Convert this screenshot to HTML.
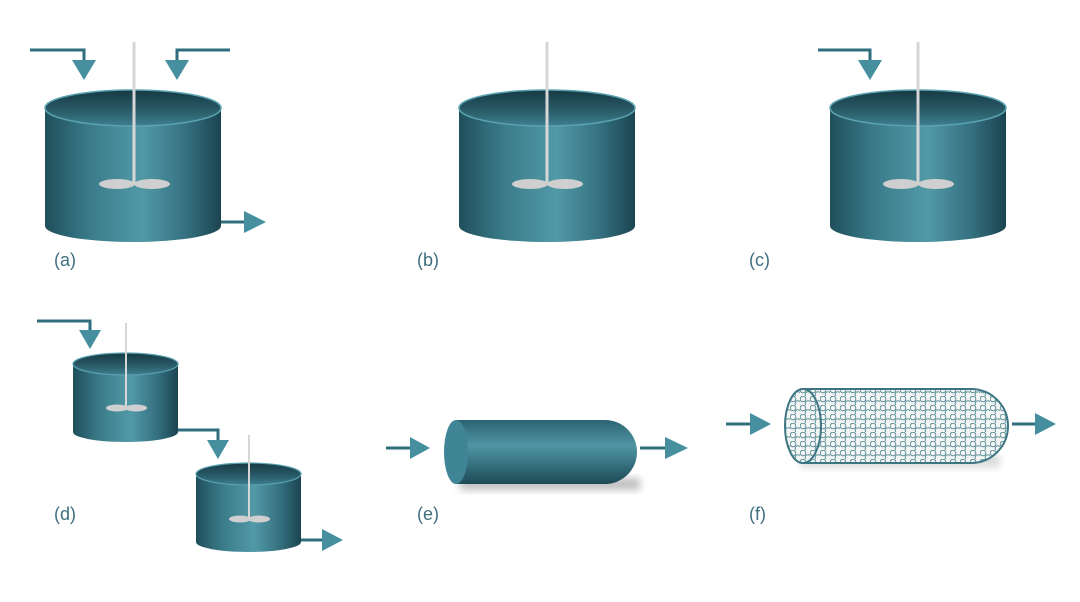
<!DOCTYPE html>
<html><head><meta charset="utf-8"><style>
html,body{margin:0;padding:0;background:#fff;}
svg{display:block;}
text{font-family:"Liberation Sans",sans-serif;font-size:18px;fill:#3d6f7d;}
</style></head><body>
<svg width="1080" height="602" viewBox="0 0 1080 602" xmlns="http://www.w3.org/2000/svg">
<defs>
<linearGradient id="body" x1="0" y1="0" x2="1" y2="0">
<stop offset="0" stop-color="#1f4f5b"/><stop offset="0.25" stop-color="#3a7b89"/><stop offset="0.55" stop-color="#5299a8"/><stop offset="0.8" stop-color="#357180"/><stop offset="1" stop-color="#1b4450"/>
</linearGradient>
<linearGradient id="top" x1="0" y1="0" x2="0" y2="1">
<stop offset="0" stop-color="#163a44"/><stop offset="0.6" stop-color="#2a5d6a"/><stop offset="1" stop-color="#3e8090"/>
</linearGradient>
<linearGradient id="hcyl" x1="0" y1="0" x2="0" y2="1">
<stop offset="0" stop-color="#2b6370"/><stop offset="0.4" stop-color="#4f95a4"/><stop offset="1" stop-color="#1d4a56"/>
</linearGradient>
<pattern id="beads" width="10" height="9" patternUnits="userSpaceOnUse">
<circle cx="3" cy="3" r="2.8" fill="none" stroke="#5f8f99" stroke-width="1"/>
<circle cx="8" cy="7.5" r="2.8" fill="none" stroke="#5f8f99" stroke-width="1"/>
</pattern>
<filter id="sh" x="-20%" y="-30%" width="140%" height="170%"><feGaussianBlur stdDeviation="4"/></filter>
</defs>
<g fill="#468f9f" stroke="#2f6e7d" stroke-width="3">
<polyline points="30,50 84,50 84,62" fill="none"/>
<polygon points="72,60 96,60 84,80" stroke="none"/>
<polyline points="230,50 177,50 177,62" fill="none"/>
<polygon points="165,60 189,60 177,80" stroke="none"/>
<line x1="221" y1="222" x2="246" y2="222"/>
<polygon points="244,211 266,222 244,233" stroke="none"/>
<polyline points="818,50 870,50 870,62" fill="none"/>
<polygon points="858,60 882,60 870,80" stroke="none"/>
<polyline points="37,321 90,321 90,332" fill="none"/>
<polygon points="79,330 101,330 90,349" stroke="none"/>
<polyline points="178,430 218,430 218,442" fill="none"/>
<polygon points="207,440 229,440 218,459" stroke="none"/>
<line x1="301" y1="540" x2="324" y2="540"/>
<polygon points="322,529 343,540 322,551" stroke="none"/>
<line x1="386" y1="448" x2="412" y2="448"/>
<polygon points="410,437 430,448 410,459" stroke="none"/>
<line x1="640" y1="448" x2="667" y2="448"/>
<polygon points="665,437 688,448 665,459" stroke="none"/>
<line x1="726" y1="424" x2="752" y2="424"/>
<polygon points="750,413 771,424 750,435" stroke="none"/>
<line x1="1012" y1="424" x2="1037" y2="424"/>
<polygon points="1035,413 1056,424 1035,435" stroke="none"/>
</g>

<g>
<path d="M45,108 L45,226 A88,16 0 0 0 221,226 L221,108 Z" fill="url(#body)"/>
<ellipse cx="133" cy="108" rx="88" ry="18" fill="url(#top)" stroke="#5aa2b1" stroke-width="1.5"/>
<line x1="134" y1="42" x2="134" y2="184" stroke="#d6d6d6" stroke-width="3"/>
<ellipse cx="117" cy="184" rx="18" ry="5" fill="#cfcfcf"/><ellipse cx="152" cy="184" rx="18" ry="5" fill="#cfcfcf"/>
</g>
<g>
<path d="M459,108 L459,226 A88,16 0 0 0 635,226 L635,108 Z" fill="url(#body)"/>
<ellipse cx="547" cy="108" rx="88" ry="18" fill="url(#top)" stroke="#5aa2b1" stroke-width="1.5"/>
<line x1="547" y1="42" x2="547" y2="184" stroke="#d6d6d6" stroke-width="3"/>
<ellipse cx="530" cy="184" rx="18" ry="5" fill="#cfcfcf"/><ellipse cx="565" cy="184" rx="18" ry="5" fill="#cfcfcf"/>
</g>
<g>
<path d="M830,108 L830,226 A88,16 0 0 0 1006,226 L1006,108 Z" fill="url(#body)"/>
<ellipse cx="918" cy="108" rx="88" ry="18" fill="url(#top)" stroke="#5aa2b1" stroke-width="1.5"/>
<line x1="918" y1="42" x2="918" y2="184" stroke="#d6d6d6" stroke-width="3"/>
<ellipse cx="901" cy="184" rx="18" ry="5" fill="#cfcfcf"/><ellipse cx="936" cy="184" rx="18" ry="5" fill="#cfcfcf"/>
</g>
<g>
<path d="M73,364 L73,432 A52.5,10 0 0 0 178,432 L178,364 Z" fill="url(#body)"/>
<ellipse cx="125.5" cy="364" rx="52.5" ry="11" fill="url(#top)" stroke="#5aa2b1" stroke-width="1.2"/>
<line x1="126" y1="323" x2="126" y2="408" stroke="#d6d6d6" stroke-width="2"/>
<ellipse cx="117" cy="408" rx="11" ry="3.5" fill="#cfcfcf"/><ellipse cx="136" cy="408" rx="11" ry="3.5" fill="#cfcfcf"/>
</g>
<g>
<path d="M196,474 L196,542 A52.5,10 0 0 0 301,542 L301,474 Z" fill="url(#body)"/>
<ellipse cx="248.5" cy="474" rx="52.5" ry="11" fill="url(#top)" stroke="#5aa2b1" stroke-width="1.2"/>
<line x1="249" y1="435" x2="249" y2="519" stroke="#d6d6d6" stroke-width="2"/>
<ellipse cx="240" cy="519" rx="11" ry="3.5" fill="#cfcfcf"/><ellipse cx="259" cy="519" rx="11" ry="3.5" fill="#cfcfcf"/>
</g>
<rect x="460" y="478" width="180" height="12" fill="#000" opacity="0.25" filter="url(#sh)"/>
<path d="M456,420 L605,420 A32,32 0 0 1 605,484 L456,484 Z" fill="url(#hcyl)"/>
<ellipse cx="456" cy="452" rx="12" ry="32" fill="#3f8595"/>
<rect x="800" y="455" width="200" height="12" fill="#000" opacity="0.15" filter="url(#sh)"/>
<path d="M803,389 L971,389 A37,37 0 0 1 971,463 L803,463 A18,37 0 0 1 803,389 Z" fill="#f4f6f6"/>
<path d="M803,389 L971,389 A37,37 0 0 1 971,463 L803,463 A18,37 0 0 1 803,389 Z" fill="url(#beads)"/>
<path d="M803,389 L971,389 A37,37 0 0 1 971,463 L803,463" fill="none" stroke="#3c7683" stroke-width="2"/>
<ellipse cx="803" cy="426" rx="18" ry="37" fill="none" stroke="#3c7683" stroke-width="2"/>

<text x="54" y="266">(a)</text>
<text x="417" y="266">(b)</text>
<text x="749" y="266">(c)</text>
<text x="54" y="520">(d)</text>
<text x="417" y="520">(e)</text>
<text x="749" y="520">(f)</text>
</svg>
</body></html>
